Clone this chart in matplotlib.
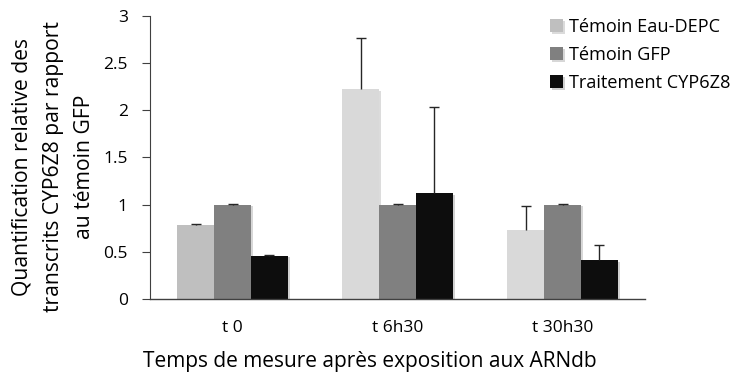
#!/usr/bin/env python3
"""Relative quantification of CYP6Z8 transcripts vs GFP control."""

import numpy as np
import matplotlib
matplotlib.use('Agg')
import matplotlib.pyplot as plt
import matplotlib.patheffects as pe

plt.rcParams['font.family'] = ['Open Sans', 'DejaVu Sans']

categories = ['t 0', 't 6h30', 't 30h30']
series = ['Témoin Eau-DEPC', 'Témoin GFP', 'Traitement CYP6Z8']
eau_depc = [0.78, 2.22, 0.73]
eau_depc_err = [0.01, 0.54, 0.25]
gfp = [1.0, 1.0, 1.0]
gfp_err = [0.01, 0.01, 0.01]
cyp6z8 = [0.46, 1.12, 0.41]
cyp6z8_err = [0.005, 0.91, 0.16]

colors = ['#d9d9d9', '#808080', '#0d0d0d']
# first light bar is drawn a bit darker in the original
first_point_color = '#bfbfbf'

fig = plt.figure(figsize=(7.35, 3.8), dpi=100)
ax = fig.add_axes([150 / 735, 1 - 299 / 380, 495 / 735, (299 - 15.7) / 380])

x = np.arange(len(categories))
width = 0.224
shadow = [pe.SimplePatchShadow(offset=(1.2, -1.2), alpha=0.18), pe.Normal()]

for i, (vals, errs) in enumerate([(eau_depc, eau_depc_err), (gfp, gfp_err), (cyp6z8, cyp6z8_err)]):
    pos = x + (i - 1) * width
    bars = ax.bar(pos, vals, width, color=colors[i], label=series[i], zorder=2)
    for b in bars:
        b.set_path_effects(shadow)
    if i == 0:
        bars[0].set_facecolor(first_point_color)
    # upper error only, no cap sitting on the bar top
    eb = ax.errorbar(pos, vals, yerr=[np.zeros(len(errs)), errs], fmt='none',
                     ecolor='#262626', elinewidth=1.0, capsize=3.5, capthick=1.0, zorder=3)
    eb[1][0].set_visible(False)

ax.set_xlim(-0.5, 2.5)
ax.set_ylim(0, 3)
ax.set_yticks([0, 0.5, 1, 1.5, 2, 2.5, 3])
ax.set_yticklabels(['0', '0.5', '1', '1.5', '2', '2.5', '3'])
ax.set_xticks(x)
ax.set_xticklabels(categories)
ax.tick_params(axis='x', length=0, pad=15, labelsize=12.5, colors='black')
ax.tick_params(axis='y', length=6, width=0.8, color='#404040', labelsize=12.5, pad=10)

for side in ['top', 'right']:
    ax.spines[side].set_visible(False)
ax.spines['left'].set_color('#404040')
ax.spines['bottom'].set_color('#404040')
ax.spines['bottom'].set_linewidth(1.0)

ax.set_xlabel('Temps de mesure après exposition aux ARNdb', fontsize=15)
ax.xaxis.set_label_coords(0.444, -0.184)
ax.set_ylabel('Quantification relative des\ntranscrits CYP6Z8 par rapport\nau témoin GFP',
              fontsize=15.2, linespacing=1.63)
ax.yaxis.set_label_coords(-0.111, 0.466)

leg = ax.legend(loc='upper left', bbox_to_anchor=(0.794, 1.018), frameon=False, fontsize=13.1,
                handlelength=0.7, handleheight=0.7, handletextpad=0.35, labelspacing=0.55,
                borderaxespad=0)

plt.savefig('out.png', dpi=100)
